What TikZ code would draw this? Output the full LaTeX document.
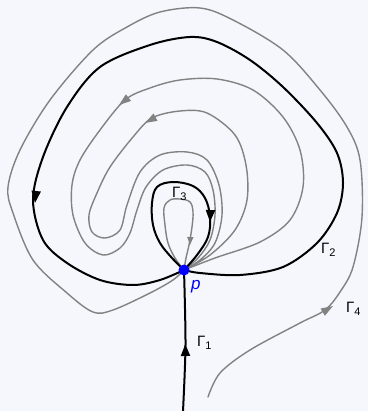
\documentclass[tikz,border=0pt]{standalone}
\usepackage{fontspec}
\setmainfont{Liberation Sans}
\usetikzlibrary{arrows.meta}
\definecolor{bgcol}{RGB}{246,247,253}
\definecolor{orbit}{RGB}{130,130,130}
\newcommand\gsub[1]{\raisebox{-3pt}{\fontsize{11}{12}\selectfont #1}}
\begin{document}
\begin{tikzpicture}[x=1pt,y=-1pt,
  gcurve/.style={draw=orbit, line width=1.4pt, line cap=round},
  bcurve/.style={draw=black, line width=2pt},
  garrow/.style={draw=orbit, fill=orbit, line width=1.4pt, -{Triangle[length=12pt,width=8pt]}},
  gsmall/.style={draw=orbit, fill=orbit, line width=1.4pt, -{Triangle[length=8pt,width=6pt]}},
  barrow/.style={draw=black, fill=black, line width=2pt, -{Triangle[length=12pt,width=9pt]}},
  lab/.style={font=\fontsize{15}{16}\selectfont, inner sep=0pt, anchor=base west}]
\fill[bgcol] (0,0) rectangle (368,411);
\useasboundingbox (0,0) rectangle (368,411);
\coordinate (p) at (184,270);

% Gamma 4 (outer gray orbit)
\draw[gcurve] plot[smooth, tension=0.55] coordinates {(208,397) (220,373) (250,350) (300,323) (325,310) (340,292) (353,267) (362,217) (360,160) (347,127) (320,90) (283,50) (233,20) (200,8) (160,12) (127,27) (93,50) (50,100) (20,150) (8,187) (13,213) (33,260) (67,293) (93,312) (113,310) (150,293) (173,280) (p)};
\draw[garrow] (328,309) -- (333,306);

% gray orbit A
\draw[gcurve] plot[smooth, tension=0.55] coordinates {(p) (215,258) (260,242) (290,220) (303,187) (300,150) (283,117) (253,90) (217,79) (180,80) (150,88) (125,100) (100,130) (80,160) (72,185) (73,215) (85,243) (103,255) (120,248) (130,233) (137,210) (146,187) (163,170) (187,165) (205,172) (213,190) (215,215) (210,240) (198,258) (p)};
\draw[garrow] (123.5,101.5) -- (119,105);

% gray orbit B
\draw[gcurve] plot[smooth, tension=0.55] coordinates {(p) (210,255) (235,230) (247,200) (246,165) (235,135) (207,113) (180,111) (152,118) (133,137) (110,167) (97,193) (89,215) (92,232) (105,238) (120,230) (127,205) (140,172) (160,155) (187,152) (207,160) (219,185) (222,215) (215,243) (200,260) (p)};
\draw[garrow] (149.5,120.5) -- (145,123);

% innermost gray loop
\draw[gcurve] plot[smooth, tension=0.6] coordinates {(p) (175,258) (168,243) (165,225) (164,208) (170,200) (180,199) (190,202) (193,212) (192,227) (189,245) (186,258) (p)};
\draw[gsmall] (190.2,240) -- (190,245);

% Gamma 3
\draw[bcurve] plot[smooth, tension=0.6] coordinates {(p) (172,258) (160,243) (153,225) (152,203) (157,187) (173,182) (193,186) (205,198) (210,217) (208,237) (197,255) (p)};
\draw[barrow] (210.2,217) -- (210,222);

% Gamma 2
\draw[bcurve] plot[smooth, tension=0.55] coordinates {(p) (200,273) (240,275) (283,267) (317,243) (337,213) (343,183) (337,153) (317,123) (283,87) (250,60) (217,42) (190,37) (150,45) (100,67) (67,107) (43,157) (33,200) (43,240) (67,263) (100,280) (133,285) (160,280) (p)};
\draw[barrow] (35.6,197) -- (35,203);

% Gamma 1
\draw[bcurve] plot[smooth] coordinates {(183,411) (185.5,345) (p)};
\draw[barrow] (185.4,350) -- (185.3,344);

\fill[blue] (p) circle (5.5pt);

\node[lab, blue] (plab) at (191,289) {\fontsize{17}{18}\selectfont\itshape p};
\node[lab] (g1) at (197,346) {Γ\gsub{1}};
\node[lab] (g2) at (321,253) {Γ\gsub{2}};
\node[lab] (g3) at (172,197) {Γ\gsub{3}};
\node[lab] (g4) at (346,312) {Γ\gsub{4}};
\end{tikzpicture}
\end{document}
